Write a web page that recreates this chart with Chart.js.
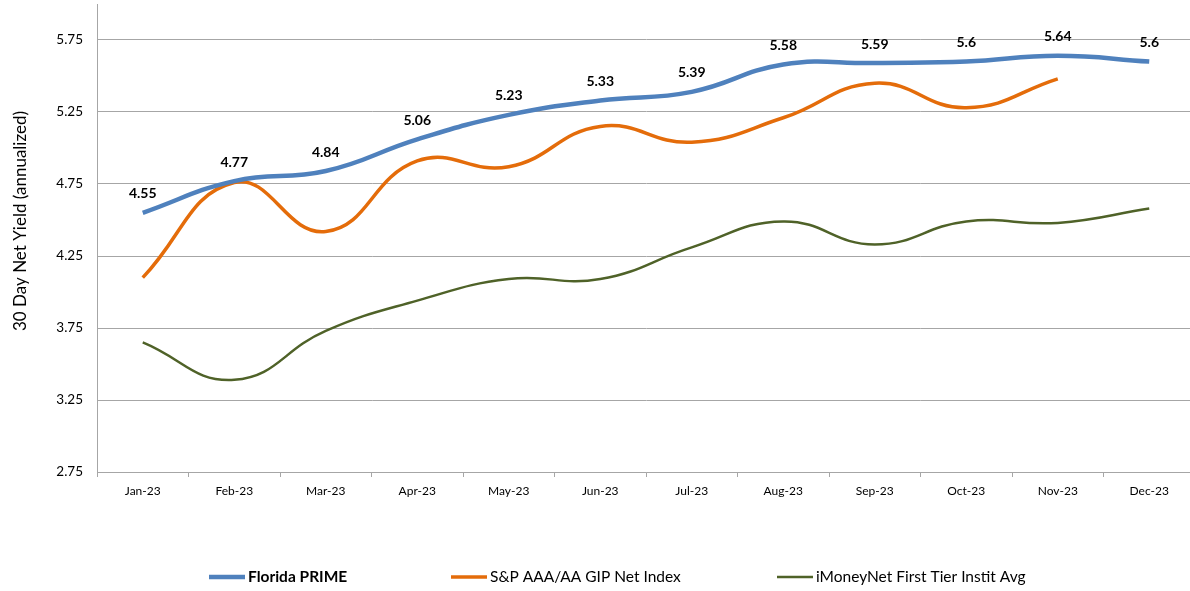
<!DOCTYPE html>
<html>
<head>
<meta charset="utf-8">
<script src="https://cdn.jsdelivr.net/npm/chart.js@4/dist/chart.umd.min.js"></script>
<style>
  html, body { margin: 0; padding: 0; background: #fff; overflow: hidden; }
  #wrap { width: 1196px; height: 591px; }
</style>
</head>
<body>
<div id="wrap"><canvas id="chart" width="1196" height="591"></canvas></div>
<script>
const months = ["Jan-23", "Feb-23", "Mar-23", "Apr-23", "May-23", "Jun-23",
                "Jul-23", "Aug-23", "Sep-23", "Oct-23", "Nov-23", "Dec-23"];
const floridaPrime = [4.55, 4.77, 4.84, 5.06, 5.23, 5.33, 5.39, 5.58, 5.59, 5.6, 5.64, 5.6];
const spGipIndex = [4.10, 4.76, 4.42, 4.91, 4.87, 5.15, 5.04, 5.21, 5.45, 5.28, 5.48, null];
const iMoneyNet = [3.65, 3.39, 3.73, 3.94, 4.09, 4.09, 4.31, 4.49, 4.33, 4.49, 4.48, 4.58];
const yTicks = [2.75, 3.25, 3.75, 4.25, 4.75, 5.25, 5.75];

const FONT = "Lato, 'Open Sans', sans-serif";

// value labels above the Florida PRIME line
const pointLabels = {
  id: "pointLabels",
  afterDatasetsDraw(chart) {
    const ctx = chart.ctx;
    const meta = chart.getDatasetMeta(0);
    ctx.save();
    ctx.font = "bold 14px " + FONT;
    ctx.fillStyle = "#000";
    ctx.textAlign = "center";
    ctx.textBaseline = "middle";
    meta.data.forEach((pt, i) => {
      ctx.fillText(String(floridaPrime[i]), pt.x, pt.y - 19);
    });
    ctx.restore();
  }
};

// y axis title and the bottom legend, drawn by hand
const extras = {
  id: "extras",
  afterDraw(chart) {
    const ctx = chart.ctx;
    ctx.save();
    ctx.fillStyle = "#000";
    ctx.font = "17px " + FONT;
    ctx.translate(21, 221);
    ctx.rotate(-Math.PI / 2);
    ctx.textAlign = "center";
    ctx.textBaseline = "middle";
    ctx.fillText("30 Day Net Yield (annualized)", 0, 0);
    ctx.restore();

    const items = [
      { x: 209, ds: 0, bold: true },
      { x: 451, ds: 1, bold: false },
      { x: 777, ds: 2, bold: false }
    ];
    ctx.save();
    ctx.textBaseline = "middle";
    items.forEach(it => {
      const ds = chart.data.datasets[it.ds];
      ctx.strokeStyle = ds.borderColor;
      ctx.lineWidth = ds.borderWidth;
      ctx.beginPath();
      ctx.moveTo(it.x, 577);
      ctx.lineTo(it.x + 36, 577);
      ctx.stroke();
      ctx.font = (it.bold ? "bold " : "") + "15.5px " + FONT;
      ctx.fillStyle = "#000";
      ctx.fillText(ds.label, it.x + 39, 577);
    });
    ctx.restore();
  }
};

new Chart(document.getElementById("chart"), {
  type: "line",
  data: {
    labels: months,
    datasets: [
      {
        label: "Florida PRIME",
        data: floridaPrime,
        borderColor: "#4f81bd",
        borderWidth: 4.5,
        tension: 0.45,
        pointRadius: 0,
        fill: false
      },
      {
        label: "S&P AAA/AA GIP Net Index",
        data: spGipIndex,
        borderColor: "#e46c0a",
        borderWidth: 3.5,
        tension: 0.45,
        pointRadius: 0,
        fill: false
      },
      {
        label: "iMoneyNet First Tier Instit Avg",
        data: iMoneyNet,
        borderColor: "#4f6228",
        borderWidth: 2.5,
        tension: 0.45,
        pointRadius: 0,
        fill: false
      }
    ]
  },
  options: {
    responsive: false,
    animation: false,
    layout: { padding: { top: 4, right: 1, left: 0, bottom: 0 } },
    plugins: {
      legend: { display: false },
      tooltip: { enabled: false }
    },
    scales: {
      x: {
        offset: true,
        grid: {
          offset: true,
          drawOnChartArea: false,
          drawTicks: true,
          tickLength: 5,
          color: "#a6a6a6"
        },
        border: { color: "#a6a6a6", width: 1 },
        ticks: {
          color: "#000",
          font: { family: FONT, size: 12 },
          padding: 7,
          maxRotation: 0
        },
        afterFit(scale) {
          scale.height = 119;
          scale.paddingLeft = 0;
          scale.paddingRight = 0;
        }
      },
      y: {
        min: 2.75,
        max: 6,
        afterBuildTicks(scale) {
          scale.ticks = yTicks.map(v => ({ value: v }));
        },
        grid: { color: "#a6a6a6", drawTicks: false },
        border: { color: "#a6a6a6", width: 1 },
        ticks: {
          color: "#000",
          font: { family: FONT, size: 13.5 },
          padding: 14,
          callback: v => v.toFixed(2)
        },
        afterFit(scale) {
          scale.width = 97;
          scale.paddingTop = 0;
          scale.paddingBottom = 0;
        }
      }
    }
  },
  plugins: [pointLabels, extras]
});
</script>
</body>
</html>
